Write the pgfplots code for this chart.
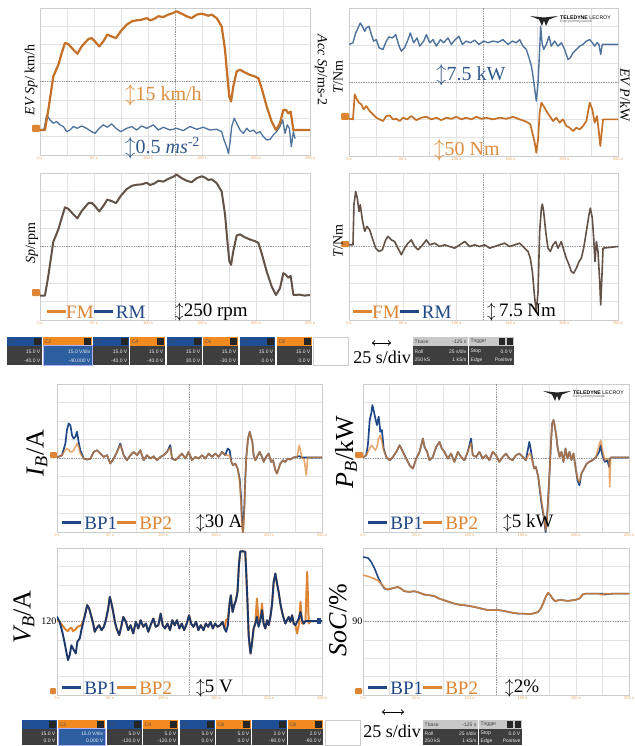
\documentclass[border=0pt]{standalone}
\usepackage{pgfplots}
\pgfplotsset{compat=1.18}
\usepackage{pgfplotstable}
\usepackage{fontspec}
\setmainfont{Liberation Serif}
\setsansfont{Liberation Sans}

\definecolor{orT}{RGB}{196,112,38}
\definecolor{blT}{RGB}{78,114,156}
\definecolor{mixT}{RGB}{98,82,72}
\definecolor{orB}{RGB}{222,133,52}
\definecolor{blB}{RGB}{32,72,135}
\definecolor{navT}{RGB}{28,55,105}
\definecolor{orL}{RGB}{221,142,62}
\definecolor{blL}{RGB}{48,88,138}
\definecolor{gridc}{RGB}{226,226,226}
\definecolor{framec}{RGB}{205,205,205}
\definecolor{dashc}{RGB}{150,150,150}
\definecolor{tickc}{RGB}{236,165,95}
\definecolor{chblue}{RGB}{30,78,150}
\definecolor{chorange}{RGB}{242,138,32}
\definecolor{chbody}{RGB}{62,62,62}
\definecolor{chsel}{RGB}{45,95,160}
\definecolor{tbhead}{RGB}{200,200,200}

\newcommand\fs[1]{\fontsize{#1pt}{#1pt}\selectfont}
\newcommand\lline[1]{{\color{#1}\rule[0.28em]{1.0em}{0.14em}}}
\newcommand\stf{\fs{5}\sffamily}

% channel box: x, w, ytop, h, headcol, name, line1, line2, bodycol
\newcommand{\chbox}[9]{%
  \begin{scope}[shift={(#1,-#3)}]
    \fill[#9] (0,0) rectangle (#2,-#4);
    \fill[#5] (0,0) rectangle (#2,-8.5);
    \fill[black!85] ({#2-8},-1) rectangle ({#2-1},-7.5);
    \node[anchor=west,inner sep=0pt,font=\stf,text=black!70] at (1.5,-4.3) {#6};
    \node[anchor=east,inner sep=0pt,font=\stf,text=white!92!black] at ({#2-1.5},{-(8.5+(#4-8.5)*0.3)}) {#7};
    \node[anchor=east,inner sep=0pt,font=\stf,text=white!92!black] at ({#2-1.5},{-(8.5+(#4-8.5)*0.76)}) {#8};
  \end{scope}}

% tbase / trigger box
\newcommand{\infobox}[9]{%
  \begin{scope}[shift={(#1,-#3)}]
    \fill[chbody] (0,0) rectangle (#2,-#4);
    \fill[tbhead] (0,0) rectangle (#2,-8.5);
    \node[anchor=west,inner sep=0pt,font=\stf,text=black!75] at (1.5,-4.3) {#5};
    \node[anchor=east,inner sep=0pt,font=\stf,text=black!75] at ({#2-1.5},-4.3) {#6};
    \node[anchor=west,inner sep=0pt,font=\stf,text=white!92!black] at (1.5,{-(8.5+(#4-8.5)*0.3)}) {#7};
    \node[anchor=east,inner sep=0pt,font=\stf,text=white!92!black] at ({#2-1.5},{-(8.5+(#4-8.5)*0.3)}) {#8};
    #9
  \end{scope}}

\newcommand{\logo}[2]{%
  \begin{scope}[shift={(#1,-#2)}]
    \fill[black!85] (0,0) -- (14,-1.5) -- (28,0) -- (19,-3.5) -- (16,-10) -- (14,-4.5) -- (12,-10) -- (9,-3.5) -- cycle;
    \node[anchor=west,inner sep=0pt,font=\fs{5.2}\sffamily\bfseries] at (30,-1.5) {TELEDYNE {\mdseries LECROY}};
    \node[anchor=west,inner sep=0pt,font=\fs{3.6}\sffamily,text=black!60] at (30,-6) {Everywhereyoulook};
  \end{scope}}

\pgfplotsset{
  osc/.style={
    scale only axis, anchor=north west,
    xmin=0, xmax=250, ymin=0, ymax=8,
    xtick={0,25,...,250}, ytick={0,1,...,8},
    xticklabels={{0 s},{},{50 s},{},{100 s},{},{150 s},{},{200 s},{},{250 s}},
    yticklabel=\mbox{},
    grid=major,
    major grid style={draw=gridc, line width=0.5pt},
    major tick length=0pt,
    axis line style={draw=framec, line width=0.6pt},
    x tick label style={font=\fs{4}\sffamily, text=tickc, inner sep=0.5pt, yshift=-1.5pt},
    extra x ticks={125}, extra y ticks={4},
    extra tick style={grid=major, major grid style={draw=dashc, dash pattern=on 1.2pt off 1.2pt, line width=0.6pt}, xticklabel=\mbox{}, yticklabel=\mbox{}},
    every axis plot/.append style={no marks, line join=round, line cap=round},
  }
}

% ---------------- data (time in s, value in screen divisions) ----------------
\pgfplotstableread{
t v
0 1.36
4.6 1.36
7.7 2.45
12.3 4.27
17.0 4.91
20.1 5.55
23.1 6.09
26.2 6.04
30.9 5.73
34.6 5.51
38.6 5.91
44.8 6.31
47.8 6.36
50.9 6.18
54.9 5.91
58.6 6.18
62.3 6.55
66.4 6.45
70.4 6.36
74.7 6.73
80.2 7.09
84.9 7.27
89.5 7.33
94.1 7.36
98.8 7.45
101.9 7.33
105.6 7.40
109.6 7.55
114.2 7.51
118.8 7.64
123.5 7.73
126.5 7.82
131.2 7.69
135.8 7.55
140.4 7.45
145.1 7.64
149.7 7.69
152.8 7.64
155.9 7.58
158.9 7.64
163.6 7.45
168.2 7.00
171.3 5.73
173.5 4.27
175.3 3.18
176.9 2.91
179.0 3.73
182.1 4.55
185.2 4.64
189.8 4.49
194.4 4.36
199.1 4.27
202.2 4.18
205.2 3.64
209.9 2.64
214.5 1.82
218.5 1.36
222.2 1.73
225.3 2.45
227.8 2.45
229.9 2.27
232.1 2.36
234.6 1.36
250 1.36
}\Asp

\pgfplotstableread{
t v
0 1.36
3.7 1.40
6.2 2.18
9.3 1.91
12.3 1.73
15.4 1.82
18.5 1.64
21.6 1.55
24.7 1.27
27.8 1.36
30.9 1.55
34.6 1.45
38.6 1.58
43.2 1.45
47.8 1.27
50.9 1.18
54.9 1.45
58.6 1.64
62.3 1.51
66.4 1.69
70.4 1.45
74.7 1.27
80.2 1.45
84.9 1.55
89.5 1.36
94.1 1.58
98.8 1.45
104.9 1.64
109.6 1.36
114.2 1.51
120.4 1.36
126.5 1.45
132.7 1.33
138.9 1.55
145.1 1.40
151.2 1.51
157.4 1.36
163.6 1.40
168.2 1.27
170.4 0.82
172.8 0.45
174.4 0.09
175.9 0.64
177.5 1.55
179.9 2.00
182.1 1.73
185.2 1.36
188.3 1.18
191.4 1.45
194.4 1.27
197.5 1.36
200.6 1.18
203.7 1.27
206.8 1.00
209.9 0.82
213.0 0.85
216.0 1.09
219.1 1.27
222.2 1.55
224.7 1.91
226.9 1.18
229.0 1.64
230.9 1.45
232.7 0.45
234.6 1.27
236.1 0.91
}\Aacc

\pgfplotstableread{
t v
0 6.03
3.7 6.12
6.2 6.65
8.4 6.92
10.5 7.19
12.4 7.01
14.6 6.74
16.1 6.92
18.6 7.01
20.8 6.56
22.9 6.21
25.4 6.29
27.9 5.85
31.6 5.76
34.7 6.21
37.2 6.44
40.3 6.38
43.4 6.56
46.5 5.94
48.6 5.67
51.7 5.85
54.8 6.29
57.0 6.65
60.1 6.12
63.2 6.38
65.7 5.94
69.4 6.21
71.9 6.56
75.0 6.12
78.1 6.29
81.2 5.94
84.9 6.29
88.0 6.12
92.0 6.38
95.1 6.03
98.2 6.26
102.2 6.47
105.3 6.03
109.0 6.21
112.8 6.12
116.8 6.26
120.8 6.03
125.2 6.21
129.2 6.12
133.8 6.21
138.5 6.15
143.1 6.29
147.8 6.03
151.8 6.21
155.5 6.12
158.6 6.29
161.7 5.94
164.8 5.76
167.3 5.31
169.5 4.86
171.0 4.32
172.6 3.60
174.1 2.97
175.7 3.96
177.2 5.76
178.1 7.01
179.4 6.12
180.9 5.76
183.4 6.03
185.9 6.47
188.0 5.94
191.1 6.21
194.2 5.94
197.3 6.12
200.4 5.76
203.5 5.22
205.7 5.31
208.2 5.58
211.3 5.76
214.4 5.94
217.5 6.03
220.6 6.21
223.7 6.29
226.1 6.12
228.3 5.94
230.5 6.12
232.3 6.03
233.9 5.49
235.4 6.03
250 6.03
}\Bpow

\pgfplotstableread{
t v
0 2.01
3.7 1.98
5.3 3.33
7.4 3.06
9.3 2.88
11.5 2.79
13.6 2.52
16.1 2.70
19.2 2.43
22.3 2.25
25.4 2.07
28.5 1.98
31.6 1.89
34.7 2.16
37.8 2.19
40.9 1.98
44.0 2.01
47.1 1.89
50.2 2.07
53.9 1.98
57.9 2.16
62.6 1.94
67.2 2.07
71.9 2.12
76.5 1.98
81.2 2.07
85.8 1.94
90.5 2.07
95.1 2.01
99.8 2.12
104.4 1.98
109.0 2.07
113.7 1.98
118.3 2.12
123.0 2.01
127.6 2.07
133.8 1.98
140.0 2.07
146.2 2.01
152.4 2.12
158.6 1.98
163.3 1.89
166.4 1.80
168.5 1.71
170.4 1.26
172.6 0.72
174.1 0.18
175.7 0.90
177.2 2.34
178.8 2.88
180.9 2.70
183.4 2.43
186.5 2.16
189.6 1.89
192.7 2.07
195.8 1.80
198.9 1.98
202.0 1.62
205.1 1.53
208.2 1.35
211.3 1.53
214.4 1.44
217.5 1.62
220.6 1.89
223.7 2.88
226.1 2.52
228.3 1.80
230.5 2.16
232.3 1.26
233.6 0.54
234.8 1.26
236.1 1.98
250 1.98
}\Btq

\pgfplotstableread{
t v
0 1.33
4.6 1.33
7.7 2.40
12.3 4.25
17.0 4.93
20.1 5.55
23.1 6.13
26.2 6.05
30.9 5.75
34.6 5.53
38.6 5.93
44.8 6.36
47.8 6.38
50.9 6.20
54.9 5.91
58.6 6.20
62.3 6.55
66.4 6.47
70.4 6.36
74.7 6.75
80.2 7.12
84.9 7.30
89.5 7.36
94.1 7.38
98.8 7.47
101.9 7.35
105.6 7.42
109.6 7.58
114.2 7.53
118.8 7.68
123.5 7.80
126.5 7.91
131.2 7.72
135.8 7.58
140.4 7.50
145.1 7.72
149.7 7.82
152.8 7.75
155.9 7.62
158.9 7.66
163.6 7.45
168.2 7.00
171.3 5.75
173.5 4.30
175.3 3.20
176.9 3.00
179.0 3.75
182.1 4.60
185.2 4.66
189.8 4.50
194.4 4.38
199.1 4.29
202.2 4.20
205.2 3.64
209.9 2.64
214.5 1.82
218.5 1.36
222.2 1.73
225.3 2.55
227.8 2.45
229.9 2.30
232.1 2.40
234.6 1.36
240 1.38
245 1.33
250 1.36
}\Csp

\pgfplotstableread{
t v
0 4.09
3.7 4.09
4.6 6.27
6.2 7.00
7.7 6.64
9.3 5.91
10.5 6.27
12.4 5.45
14.6 4.82
16.7 5.09
19.2 4.91
21.7 4.45
24.8 3.91
27.9 3.73
31.0 3.82
34.1 4.36
36.2 4.55
39.3 4.36
42.4 4.27
45.5 3.91
48.6 3.55
51.7 3.91
54.8 4.18
57.9 4.36
61.0 4.00
64.1 3.82
67.2 4.00
71.9 4.36
75.0 4.09
79.6 4.18
84.3 4.00
88.9 4.09
93.6 4.00
98.2 3.91
102.9 4.09
107.5 4.27
112.1 4.00
116.8 4.09
121.4 4.00
126.1 4.09
130.7 3.91
135.4 4.00
140.0 4.09
144.7 4.18
149.3 4.00
154.0 4.09
158.6 4.18
163.3 3.91
166.4 3.73
168.5 3.36
170.4 2.64
172.6 1.18
174.1 0.45
175.7 1.55
177.2 4.82
178.8 6.09
179.7 6.31
180.9 5.91
182.8 4.82
184.9 3.91
187.1 3.73
189.6 4.09
192.1 4.27
194.2 3.91
197.3 4.27
199.5 3.82
202.0 3.36
204.5 3.00
206.6 2.64
208.8 2.55
211.3 2.82
213.8 3.18
215.9 3.36
218.1 3.91
220.6 4.82
223.0 5.73
224.3 6.09
226.1 5.55
227.4 4.45
228.6 3.18
229.9 4.27
231.4 3.73
233.0 2.09
233.9 0.82
235.1 2.45
236.1 3.91
250 4.00
}\Dtq

\pgfplotstableread{
t a b
0 4.03 4.03
4.7 4.15 4.15
7.9 4.78 4.42
9.4 5.51 4.51
11.0 5.87 4.45
12.6 5.78 4.33
14.2 5.23 4.33
15.7 5.05 4.42
17.3 5.14 4.60
18.9 5.42 4.78
20.4 4.87 4.60
22.0 4.42 4.24
25.2 3.97 3.97
28.3 3.92 3.92
31.4 3.95 3.95
34.6 4.33 4.33
37.7 4.42 4.42
40.9 4.24 4.24
44.0 4.06 4.06
47.2 4.15 4.15
50.3 3.70 3.70
53.5 3.97 3.97
56.6 4.33 4.33
59.7 4.78 4.70
62.9 4.15 4.15
66.0 3.88 3.88
69.2 4.15 4.15
72.3 4.33 4.33
75.5 4.15 4.15
78.6 4.42 4.42
81.8 3.88 3.88
84.9 4.15 4.15
88.1 3.97 3.97
91.2 4.10 4.10
94.3 3.88 3.88
97.5 4.06 4.06
100.6 4.15 4.15
103.8 4.33 4.33
106.9 4.69 4.55
108.5 3.97 3.97
111.6 3.88 3.88
114.8 4.06 4.06
117.9 4.24 4.24
121.1 3.97 3.97
124.2 4.33 4.33
127.4 3.88 3.88
130.5 4.06 4.06
133.6 3.97 3.97
136.8 4.15 4.15
139.9 3.97 3.97
143.1 4.24 4.24
146.2 4.06 4.06
149.4 4.24 4.24
152.5 4.06 4.06
155.7 4.33 4.33
158.8 4.15 4.15
161.0 4.51 4.15
162.9 4.42 4.10
164.5 3.79 3.79
166.0 3.61 3.61
168.2 3.70 3.70
170.4 3.43 3.43
172.3 2.89 2.70
173.6 1.90 1.60
174.5 0.63 0.30
175.5 0.00 -0.20
176.7 1.35 1.00
177.7 2.98 2.90
178.6 4.06 4.06
180.2 5.05 5.05
181.8 5.42 5.42
183.0 5.14 5.14
184.3 4.87 4.87
185.5 4.15 4.15
187.1 3.88 3.88
188.7 4.06 4.06
191.2 4.33 4.33
193.4 4.06 4.06
195.0 3.79 3.79
197.2 4.06 4.06
199.7 4.24 4.24
201.9 3.79 3.79
203.8 3.88 3.88
206.0 3.34 3.34
207.5 3.16 3.16
209.1 3.43 3.43
210.7 3.70 3.70
213.2 3.88 3.88
215.4 3.79 3.79
217.6 3.97 3.97
220.1 3.92 3.92
223.3 4.03 4.03
226.4 4.06 4.06
228.6 4.10 4.69
231.1 4.03 4.03
233.3 4.03 3.88
235.2 4.03 3.07
236.5 4.03 4.03
250 4.03 4.03
}\Ecur

\pgfplotstableread{
t a b
0 4.03 4.03
3.1 4.15 4.15
4.7 4.78 4.33
6.3 6.05 4.51
7.8 6.41 4.69
8.8 6.86 4.64
10.3 6.50 4.51
11.6 6.14 4.42
13.1 5.78 4.60
14.7 6.23 5.05
16.3 5.42 5.23
17.8 5.51 4.87
19.4 4.51 4.42
21.9 4.06 4.06
25.0 3.88 3.88
28.1 4.06 4.06
31.3 4.33 4.33
34.4 4.69 4.69
37.5 4.33 4.33
40.6 3.97 3.97
43.8 3.61 3.61
46.9 3.43 3.43
50.0 3.97 3.97
53.1 4.33 4.33
56.3 5.05 5.05
57.8 4.60 4.60
60.3 4.33 4.33
62.5 3.88 3.88
65.6 4.06 4.06
68.8 4.60 4.60
71.9 4.87 4.87
74.1 4.51 4.51
76.6 4.33 4.33
79.7 3.97 3.97
82.8 4.24 4.24
85.9 3.79 3.79
89.1 4.33 4.33
92.2 4.06 4.06
95.3 3.88 3.88
98.4 4.33 4.33
101.6 5.05 4.80
103.1 4.15 4.15
106.3 4.06 4.06
109.4 4.33 4.33
112.5 3.97 3.97
115.6 4.15 4.15
118.8 3.88 3.88
121.9 4.33 4.33
125.0 4.15 4.15
128.1 3.79 3.79
131.3 4.06 4.06
134.4 4.24 4.24
137.5 3.97 3.97
140.6 3.88 3.88
143.8 4.15 4.15
146.9 4.24 4.24
150.0 4.06 4.06
153.1 3.88 3.88
156.3 4.87 4.24
157.8 4.42 4.15
159.4 3.79 3.79
160.9 3.43 3.43
162.5 3.52 3.52
164.7 2.98 2.98
166.6 2.08 2.20
167.8 1.53 1.70
169.1 1.08 1.20
170.3 0.63 0.80
171.6 0.00 0.10
172.8 0.63 0.50
174.1 1.90 1.90
175.6 3.52 3.52
176.6 4.78 4.78
177.8 5.87 5.87
179.1 6.05 6.05
180.3 5.69 5.69
181.6 5.23 5.23
182.8 4.60 4.60
184.7 4.06 4.06
186.6 4.33 4.33
188.4 3.79 3.79
190.3 4.51 4.51
192.2 3.97 3.97
194.1 4.33 4.33
195.9 3.88 3.88
197.8 4.24 4.24
199.7 3.52 3.52
201.6 2.80 2.90
203.4 2.53 2.70
205.3 3.16 3.16
207.8 3.43 3.43
210.3 3.70 3.70
212.5 3.79 3.79
215.6 3.88 3.88
218.8 4.03 4.03
221.9 4.33 4.69
223.4 4.69 4.96
225.0 4.15 4.42
227.2 3.79 3.88
229.7 3.88 3.97
231.3 3.52 3.88
231.9 3.88 2.44
232.8 4.03 4.03
250 4.03 4.03
}\Fpow

\pgfplotstableread{
t a b
0 4.25 4.07
2.5 3.98 3.98
5.0 3.44 3.80
7.3 2.81 3.62
8.8 2.35 3.53
10.4 1.90 3.48
12.0 2.17 3.62
13.6 2.71 3.66
15.1 2.53 3.48
17.7 2.26 3.58
19.2 2.90 3.71
21.5 3.08 3.76
23.0 3.53 3.80
25.2 4.07 4.07
27.1 4.52 4.52
28.4 4.89 4.89
30.3 4.71 4.71
32.5 4.25 4.25
34.1 3.89 3.89
35.6 3.44 3.44
37.2 3.62 3.62
39.7 3.80 3.80
42.0 3.53 3.53
44.2 3.71 3.71
46.1 4.07 4.07
48.3 4.71 4.71
49.8 5.34 5.34
51.4 4.98 4.98
53.0 4.52 4.52
54.6 3.98 3.98
56.2 3.62 3.62
58.7 3.26 3.26
60.9 3.80 3.80
62.5 4.25 4.25
65.0 3.98 3.98
67.2 3.53 3.53
69.4 3.80 3.80
71.9 3.35 3.35
74.4 3.98 3.98
76.7 3.62 3.62
78.9 4.07 4.07
81.4 3.71 3.71
83.9 3.89 3.89
86.1 3.44 3.44
88.3 3.80 3.80
90.9 4.16 4.16
93.1 3.71 3.71
95.6 3.80 3.80
97.8 4.43 4.43
99.7 3.80 3.80
101.9 3.62 3.62
104.1 3.89 3.89
106.6 3.53 3.53
108.8 4.07 4.07
111.0 3.80 3.80
113.2 4.07 4.07
115.5 3.62 3.62
117.7 3.89 3.89
119.9 3.53 3.53
122.4 3.89 3.89
124.6 4.34 4.34
126.5 3.89 3.89
128.7 3.71 3.71
131.2 3.98 3.98
133.4 3.53 3.53
135.6 3.80 3.80
138.2 3.53 3.53
140.4 3.89 3.89
142.6 3.71 3.71
144.8 3.98 3.98
147.0 3.62 3.62
149.2 3.89 3.89
151.4 3.71 3.71
153.9 3.80 3.80
156.2 3.98 3.98
158.0 3.62 3.62
159.6 3.44 4.07
161.2 3.80 4.16
162.8 4.98 4.98
164.0 5.43 5.43
165.6 4.52 4.52
167.2 4.89 4.89
168.8 5.16 5.16
170.3 5.61 5.61
171.6 7.06 7.06
172.9 7.82 7.82
176.0 7.82 7.82
177.6 7.78 7.78
178.5 6.70 6.70
179.8 4.89 4.89
180.8 3.26 3.26
181.7 2.71 2.71
182.6 2.26 2.26
183.9 2.81 2.81
185.5 3.62 3.62
187.1 3.89 3.89
188.6 4.25 5.25
190.2 3.71 3.98
191.8 4.07 4.07
193.4 4.62 4.98
194.9 3.89 3.89
196.5 3.62 3.62
198.1 4.07 4.07
199.7 3.80 3.80
201.3 4.25 4.25
202.8 4.89 4.89
204.4 6.15 6.15
206.0 6.61 6.61
207.6 6.06 6.06
209.1 5.61 5.61
210.7 4.98 4.98
212.3 4.52 4.52
213.9 4.16 4.16
215.5 3.89 3.89
217.0 4.07 4.07
218.6 4.25 4.25
220.2 3.98 3.98
221.8 4.34 4.34
223.3 3.89 3.89
224.9 3.80 3.80
226.5 3.98 3.35
228.1 4.16 3.80
229.7 4.52 5.07
231.2 4.07 3.89
232.8 3.89 3.89
234.4 4.02 4.02
236.0 4.02 6.70
237.5 4.02 3.89
239.1 4.02 4.02
250 4.02 4.02
}\Gvolt

\pgfplotstableread{
t a b
0 7.51 6.52
4.7 7.46 6.46
7.8 7.24 6.39
10.9 6.88 6.32
14.0 6.43 6.23
17.1 6.06 6.06
20.2 5.79 5.83
23.3 5.74 5.74
26.4 5.79 5.79
29.5 5.83 5.83
32.6 5.88 5.88
35.7 5.79 5.79
38.8 5.65 5.65
43.5 5.61 5.61
48.1 5.65 5.65
52.8 5.57 5.57
57.5 5.47 5.47
62.1 5.43 5.43
66.8 5.39 5.39
71.4 5.25 5.25
76.1 5.16 5.16
80.7 5.07 5.07
85.4 4.98 4.98
90.1 4.92 4.92
94.7 4.89 4.89
99.4 4.85 4.85
104.0 4.80 4.80
108.7 4.74 4.74
113.4 4.67 4.67
118.0 4.62 4.62
122.7 4.62 4.62
127.3 4.62 4.62
132.0 4.58 4.58
136.6 4.52 4.52
141.3 4.47 4.47
146.0 4.43 4.43
150.6 4.43 4.43
155.3 4.40 4.40
159.9 4.43 4.43
164.6 4.52 4.52
167.1 4.71 4.71
169.3 4.98 4.98
171.7 5.34 5.34
173.9 5.56 5.56
176.1 5.43 5.43
178.6 5.21 5.21
180.7 5.10 5.10
183.2 5.16 5.16
187.9 5.16 5.16
192.5 5.12 5.12
197.2 5.16 5.16
200.3 5.19 5.19
203.4 5.25 5.25
206.5 5.47 5.47
209.6 5.52 5.52
214.3 5.52 5.52
220.5 5.52 5.52
225.2 5.52 5.45
226.7 5.47 5.52
231.4 5.50 5.50
236.0 5.52 5.52
250 5.52 5.52
}\Hsoc

\begin{document}
\begin{tikzpicture}
\begin{scope}[x=1pt,y=1pt]
\path[use as bounding box, fill=white] (0,0) rectangle (630,-746);
\end{scope}

% ---------------- top group ----------------
\begin{axis}[osc, at={(40pt,-8pt)}, width=270pt, height=147pt]
\addplot[blT, line width=1.3pt] table[x=t,y=v]{\Aacc};
\addplot[orT, line width=2.2pt] table[x=t,y=v]{\Asp};
\end{axis}

\begin{axis}[osc, at={(349pt,-8pt)}, width=269pt, height=148pt]
\addplot[blT, line width=1.4pt] table[x=t,y=v]{\Bpow};
\addplot[orT, line width=1.7pt] table[x=t,y=v]{\Btq};
\end{axis}

\begin{axis}[osc, at={(40pt,-173pt)}, width=270pt, height=147pt]
\addplot[mixT, line width=2.0pt] table[x=t,y=v]{\Csp};
\end{axis}

\begin{axis}[osc, at={(349pt,-173pt)}, width=269pt, height=147pt]
\addplot[mixT, line width=1.6pt] table[x=t,y=v]{\Dtq};
\end{axis}

% ---------------- bottom group ----------------
\begin{axis}[osc, at={(57pt,-384pt)}, width=265pt, height=148pt]
\addplot[blB, line width=1.7pt] table[x=t,y=a]{\Ecur};
\addplot[orB, line width=1.6pt, opacity=0.7] table[x=t,y=b]{\Ecur};
\end{axis}

\begin{axis}[osc, at={(363pt,-384pt)}, width=266pt, height=148pt]
\addplot[blB, line width=1.7pt] table[x=t,y=a]{\Fpow};
\addplot[orB, line width=1.6pt, opacity=0.7] table[x=t,y=b]{\Fpow};
\end{axis}

\begin{axis}[osc, at={(57pt,-548pt)}, width=265pt, height=147pt]
\addplot[orB, line width=2.0pt] table[x=t,y=b]{\Gvolt};
\addplot[navT, line width=1.9pt] table[x=t,y=a]{\Gvolt};
\end{axis}

\begin{axis}[osc, at={(363pt,-548pt)}, width=266pt, height=147pt]
\addplot[blB, line width=1.6pt] table[x=t,y=a]{\Hsoc};
\addplot[orB, line width=1.6pt, opacity=0.85] table[x=t,y=b]{\Hsoc};
\end{axis}

\begin{scope}[x=1pt,y=1pt]
% ground markers
\fill[orB, rounded corners=1pt] (32,-125) rectangle (40,-132);
\fill[orB, rounded corners=1pt] (341,-113) rectangle (349,-120);
\fill[orB, rounded corners=1pt] (32,-289) rectangle (40,-296);
\fill[orB, rounded corners=1pt] (341,-241) rectangle (349,-247);
\fill[orB, rounded corners=1pt] (50,-452) rectangle (57,-458);
\fill[orB, rounded corners=1pt] (355,-452) rectangle (363,-458);
\fill[orB, rounded corners=1pt] (50,-688) rectangle (56,-694);
\fill[orB, rounded corners=1pt] (355,-688) rectangle (362,-694);
\fill[blB] (317,-618) rectangle (321,-624);

% logos
\logo{530}{16}
\logo{543}{391}

% axis titles, top group
\node[rotate=90, font=\fs{14}] at (31,-80) {\textit{EV Sp}/ km/h};
\node[rotate=-90, font=\fs{14}] at (321,-70) {\textit{Acc Sp}/ms-2};
\node[rotate=90, font=\fs{14}] at (338,-77) {\textit{T}/Nm};
\node[rotate=-90, font=\fs{14}] at (625,-95) {\textit{EV P}/kW};
\node[rotate=90, font=\fs{14}] at (32,-243) {\textit{Sp}/rpm};
\node[rotate=90, font=\fs{14}] at (338,-241) {\textit{T}/Nm};

% scale annotations, top group
\node[anchor=west, inner sep=0, font=\fs{20}, text=orL] at (125,-95) {$\updownarrow$15 km/h};
\node[anchor=west, inner sep=0, font=\fs{20}, text=blL] at (125,-148) {$\updownarrow$0.5 \textit{ms}\textsuperscript{-2}};
\node[anchor=west, inner sep=0, font=\fs{20}, text=blL] at (436,-75) {$\updownarrow$7.5 kW};
\node[anchor=west, inner sep=0, font=\fs{20}, text=orL] at (434,-150) {$\updownarrow$50 Nm};

\node[anchor=west, inner sep=0, font=\fs{19}] at (47,-312) {\lline{orB}\textcolor{orB}{FM}\lline{blB}\,\textcolor{blB}{RM}};
\node[anchor=west, inner sep=0, font=\fs{19}] at (175,-312) {$\updownarrow$250 rpm};
\node[anchor=west, inner sep=0, font=\fs{19}] at (353,-312) {\lline{orB}\textcolor{orB}{FM}\lline{blB}\,\textcolor{blB}{RM}};
\node[anchor=west, inner sep=0, font=\fs{19}] at (487,-312) {$\updownarrow$\,7.5 Nm};

% axis titles, bottom group
\node[rotate=90, font=\fs{26}] at (37,-453) {\textit{I\textsubscript{B}}/A};
\node[rotate=90, font=\fs{26}] at (346,-452) {\textit{P\textsubscript{B}}/kW};
\node[rotate=90, font=\fs{26}] at (24,-617) {\textit{V\textsubscript{B}}/A};
\node[rotate=90, font=\fs{26}] at (338,-620) {\textit{SoC}/\%};
\node[anchor=east, inner sep=0.5, font=\fs{10}] at (57,-621) {120};
\node[anchor=east, inner sep=0.5, font=\fs{10}] at (363,-621) {90};

% legends, bottom group
\node[anchor=west, inner sep=0, font=\fs{19}] at (62,-523) {\lline{blB}\,\textcolor{blB}{BP1}\lline{orB}\,\textcolor{orB}{BP2}};
\node[anchor=west, inner sep=0, font=\fs{19}] at (196,-523) {$\updownarrow$30 A};
\node[anchor=west, inner sep=0, font=\fs{19}] at (368,-523) {\lline{blB}\,\textcolor{blB}{BP1}\lline{orB}\,\textcolor{orB}{BP2}};
\node[anchor=west, inner sep=0, font=\fs{19}] at (503,-523) {$\updownarrow$5 kW};
\node[anchor=west, inner sep=0, font=\fs{19}] at (62,-688) {\lline{blB}\,\textcolor{blB}{BP1}\lline{orB}\,\textcolor{orB}{BP2}};
\node[anchor=west, inner sep=0, font=\fs{19}] at (196,-688) {$\updownarrow$5 V};
\node[anchor=west, inner sep=0, font=\fs{19}] at (368,-688) {\lline{blB}\,\textcolor{blB}{BP1}\lline{orB}\,\textcolor{orB}{BP2}};
\node[anchor=west, inner sep=0, font=\fs{19}] at (505,-688) {$\updownarrow$2\%};

% ---------------- status bar, top ----------------
\chbox{7}{35}{337}{28}{chblue}{C1}{15.0 V}{-40.0 V}{chbody}
\chbox{43}{49}{337}{28}{chorange}{C2}{15.0 V/div}{-40.000 V}{chsel}
\draw[blue!30, line width=0.6pt] (43,-345.5) rectangle (92,-365);
\chbox{93}{36}{337}{28}{chblue}{C3}{15.0 V}{-40.0 V}{chbody}
\chbox{130}{35}{337}{28}{chorange}{C4}{15.0 V}{-40.0 V}{chbody}
\chbox{167}{35}{337}{28}{chblue}{C5}{15.0 V}{30.0 V}{chbody}
\chbox{203}{35}{337}{28}{chorange}{C6}{15.0 V}{-30.0 V}{chbody}
\chbox{240}{35}{337}{28}{chblue}{C7}{15.0 V}{0.0 V}{chbody}
\chbox{277}{35}{337}{28}{chorange}{C8}{15.0 V}{0.0 V}{chbody}
\draw[black!20, line width=0.6pt] (313,-337) rectangle (348,-365);
\draw[<->, line width=1pt] (372,-343) -- (391,-343);
\node[font=\fs{18}, inner sep=0] at (382,-357) {25 s/div};
\infobox{413}{55}{337}{28}{Tbase}{-125 s}{Roll}{25 s/div}{%
  \node[anchor=west,inner sep=0pt,font=\stf,text=white!92!black] at (1.5,-22.8) {250 kS};
  \node[anchor=east,inner sep=0pt,font=\stf,text=white!92!black] at (53.5,-22.8) {1 kS/s};}
\infobox{469}{45}{337}{28}{Trigger}{}{Stop}{0.0 V}{%
  \fill[black!85] (30,-1) rectangle (36,-7.5); \fill[black!85] (37.5,-1) rectangle (44,-7.5);
  \node[anchor=west,inner sep=0pt,font=\stf,text=white!92!black] at (1.5,-22.8) {Edge};
  \node[anchor=east,inner sep=0pt,font=\stf,text=white!92!black] at (43.5,-22.8) {Positive};}

% ---------------- status bar, bottom ----------------
\chbox{22}{35}{720}{25}{chblue}{C1}{15.0 V}{0.0 V}{chbody}
\chbox{58}{47}{720}{25}{chorange}{C2}{15.0 V/div}{0.000 V}{chsel}
\draw[blue!30, line width=0.6pt] (58,-728.5) rectangle (105,-745);
\chbox{107}{35}{720}{25}{chblue}{C3}{5.0 V}{-120.0 V}{chbody}
\chbox{143}{35}{720}{25}{chorange}{C4}{5.0 V}{-120.0 V}{chbody}
\chbox{180}{35}{720}{25}{chblue}{C5}{5.0 V}{0.0 V}{chbody}
\chbox{216}{35}{720}{25}{chorange}{C6}{5.0 V}{0.0 V}{chbody}
\chbox{252}{35}{720}{25}{chblue}{C7}{2.0 V}{-90.0 V}{chbody}
\chbox{288}{35}{720}{25}{chorange}{C8}{2.0 V}{-90.0 V}{chbody}
\draw[black!20, line width=0.6pt] (325,-720) rectangle (360,-745);
\draw[<->, line width=1pt] (382,-712) -- (404,-712);
\node[font=\fs{18}, inner sep=0] at (392,-731) {25 s/div};
\infobox{423}{55}{720}{25}{Tbase}{-125 s}{Roll}{25 s/div}{%
  \node[anchor=west,inner sep=0pt,font=\stf,text=white!92!black] at (1.5,-21) {250 kS};
  \node[anchor=east,inner sep=0pt,font=\stf,text=white!92!black] at (53.5,-21) {1 kS/s};}
\infobox{479}{43}{720}{25}{Trigger}{}{Stop}{0.0 V}{%
  \fill[black!85] (28,-1) rectangle (34,-7.5); \fill[black!85] (35.5,-1) rectangle (42,-7.5);
  \node[anchor=west,inner sep=0pt,font=\stf,text=white!92!black] at (1.5,-21) {Edge};
  \node[anchor=east,inner sep=0pt,font=\stf,text=white!92!black] at (41.5,-21) {Positive};}
\end{scope}
\end{tikzpicture}
\end{document}
